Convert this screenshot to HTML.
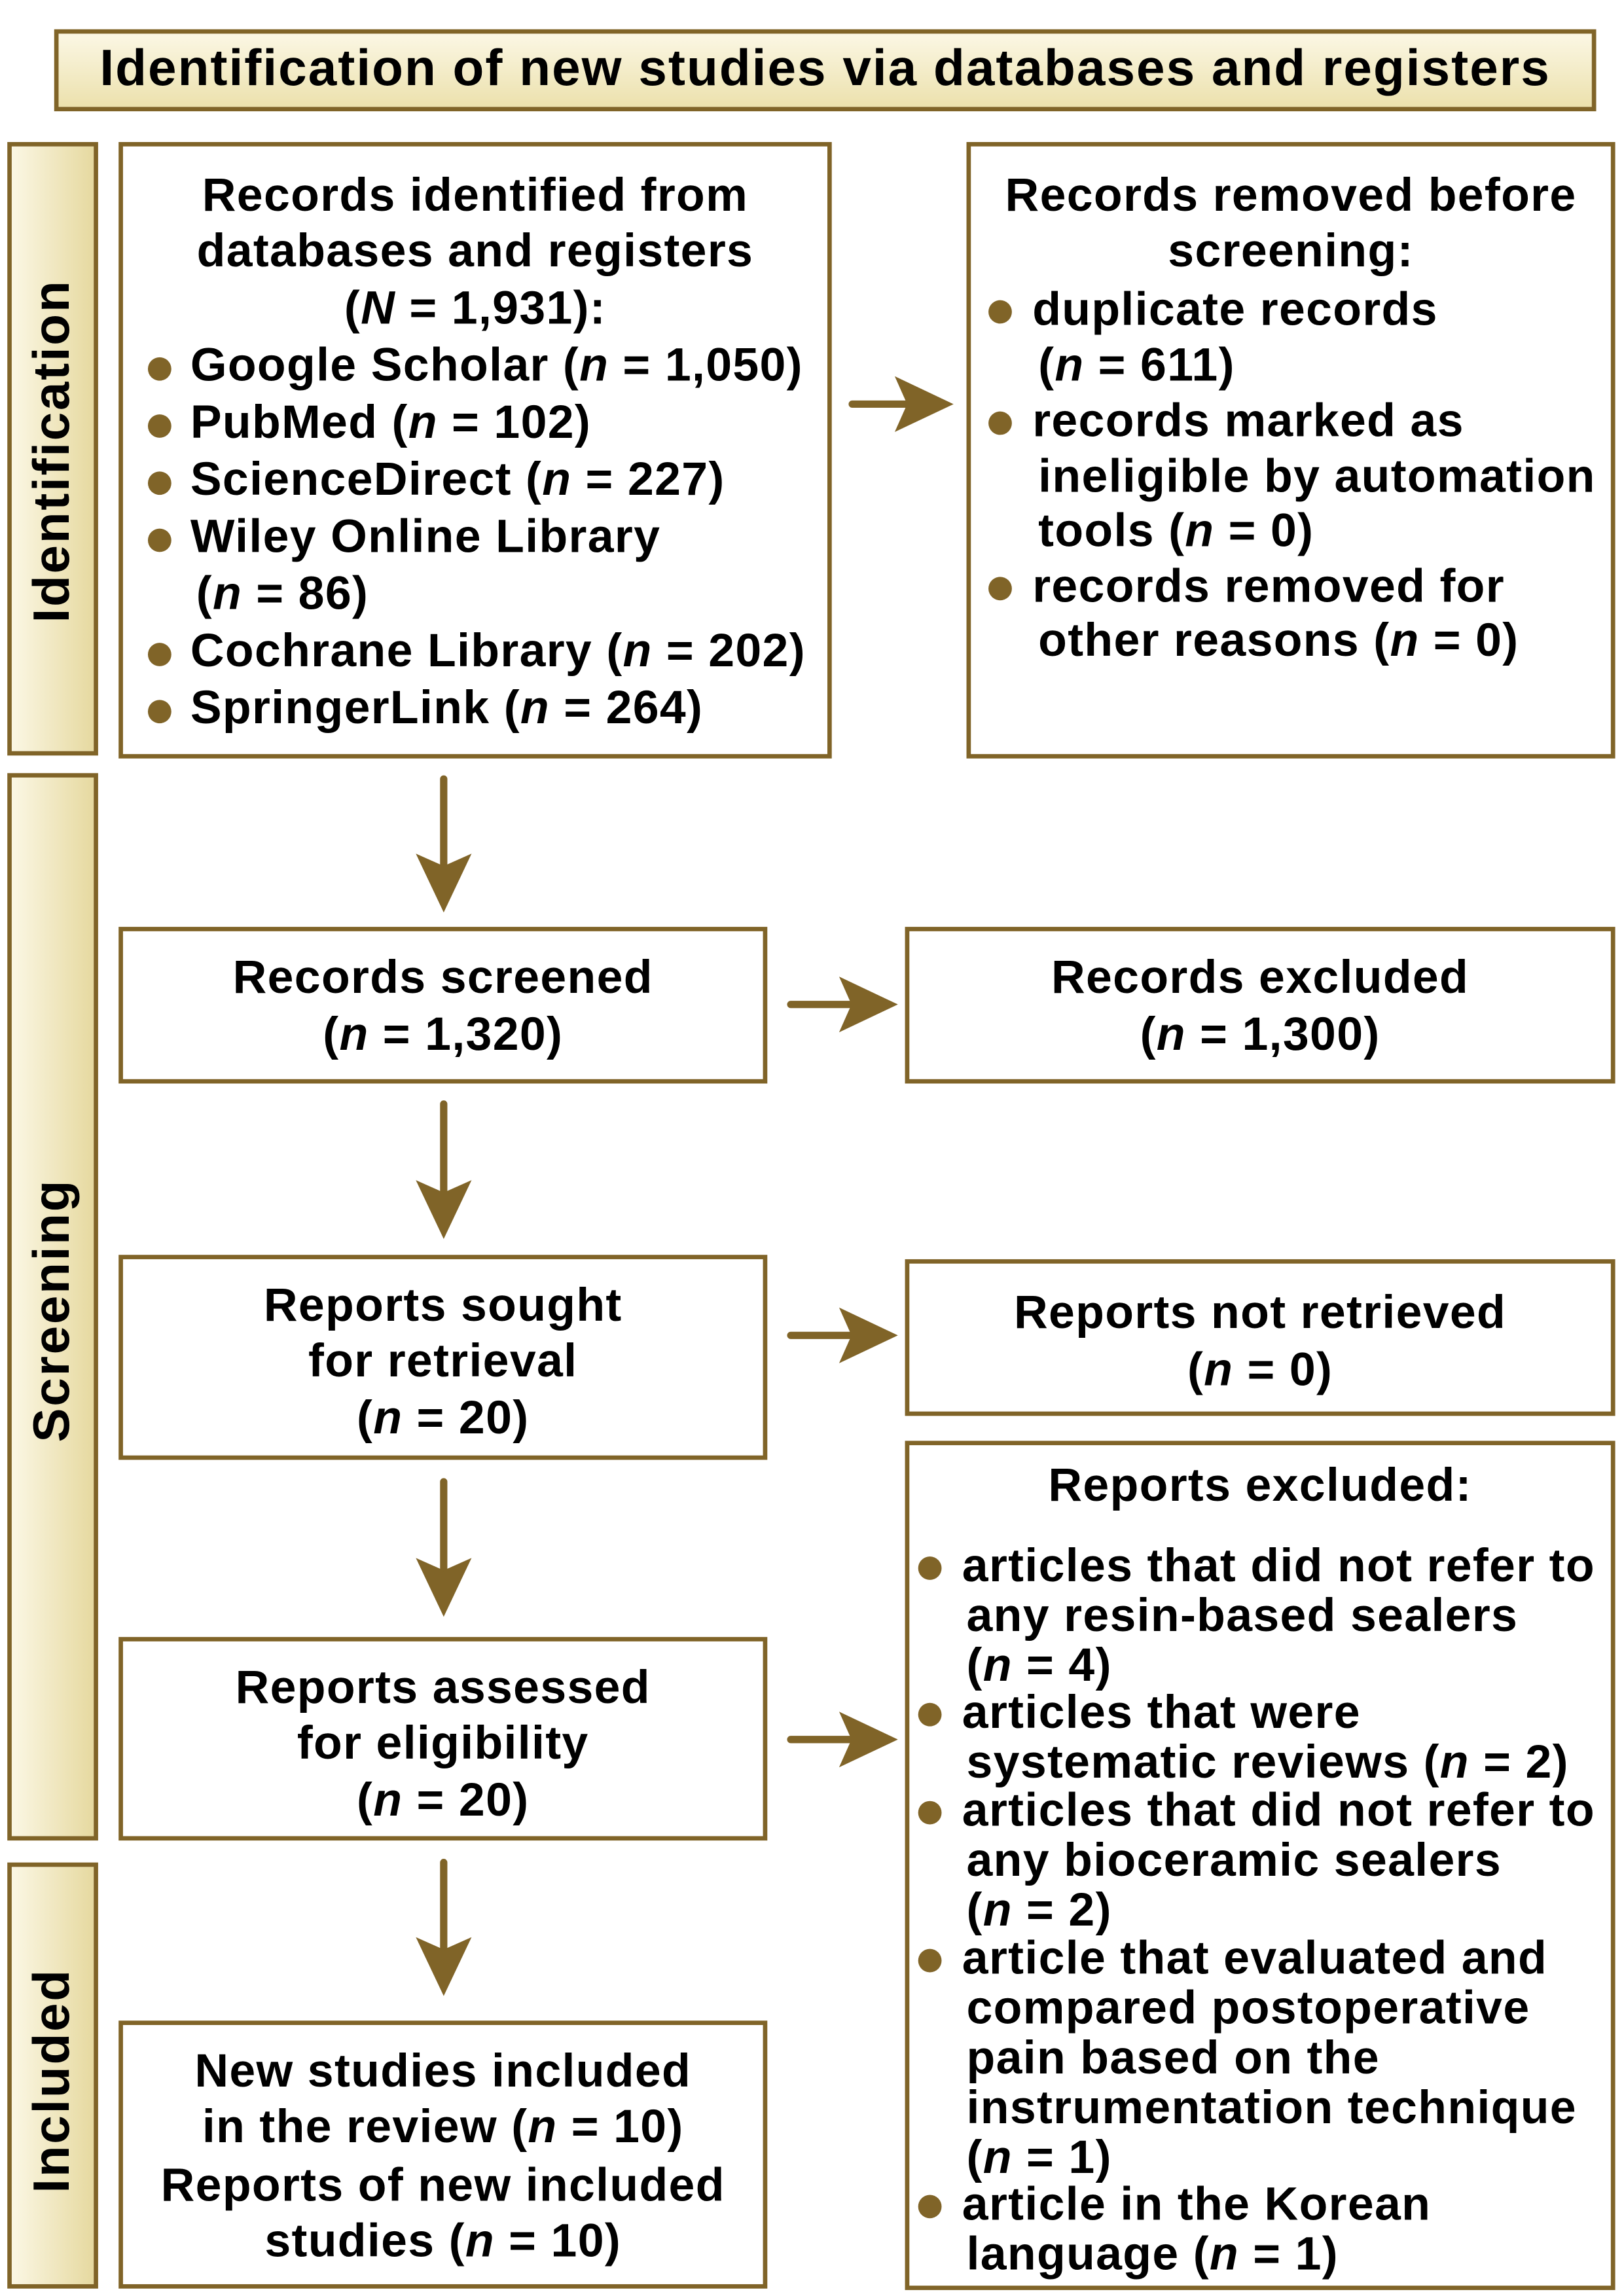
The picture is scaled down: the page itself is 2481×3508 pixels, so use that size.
<!DOCTYPE html>
<html><head><meta charset="utf-8"><style>
html,body{margin:0;padding:0;background:#fff;}
#wrap{width:2481px;height:3508px;overflow:hidden;position:relative;background:#fff;}
#s{position:absolute;left:0;top:0;width:1109px;height:1568px;transform:scale(2.23715);transform-origin:0 0;font-family:"Liberation Sans",Arial,sans-serif;font-weight:bold;color:#000;}
.b{position:absolute;border:3px solid #806428;box-sizing:border-box;background:#fff;}
.g{background:linear-gradient(to bottom,#fbf7e4,#ece1ad);}
.gs{background:linear-gradient(to right,#fbf7e4,#e6d9a0);}
.t{position:absolute;font-size:32px;line-height:38px;white-space:nowrap;letter-spacing:0.6px;}
.c{text-align:center;left:0;right:0;}
.dot{position:absolute;width:16px;height:16px;border-radius:50%;background:#806428;}
.side{position:absolute;font-size:35px;letter-spacing:1.2px;transform:rotate(-90deg);white-space:nowrap;transform-origin:center;}
</style></head><body><div id="wrap"><div id="s">
<svg width="1109" height="1568" style="position:absolute;left:0;top:0">
<g fill="#806428" stroke="#806428" stroke-width="5" stroke-linecap="round">
<line x1="582" y1="276" x2="620" y2="276"/><polygon stroke-width="1" points="612,258 650,276 612,294 620,276"/>
<line x1="540" y1="686" x2="582" y2="686"/><polygon stroke-width="1" points="574,668 612,686 574,704 582,686"/>
<line x1="540" y1="912" x2="582" y2="912"/><polygon stroke-width="1" points="574,894 612,912 574,930 582,912"/>
<line x1="540" y1="1188" x2="582" y2="1188"/><polygon stroke-width="1" points="574,1170 612,1188 574,1206 582,1188"/>
<line x1="303" y1="532" x2="303" y2="592"/><polygon stroke-width="1" points="285,584 303,622 321,584 303,592"/>
<line x1="303" y1="754" x2="303" y2="815"/><polygon stroke-width="1" points="285,807 303,845 321,807 303,815"/>
<line x1="303" y1="1012" x2="303" y2="1073"/><polygon stroke-width="1" points="285,1065 303,1103 321,1065 303,1073"/>
<line x1="303" y1="1272" x2="303" y2="1332"/><polygon stroke-width="1" points="285,1324 303,1362 321,1324 303,1332"/>
</g></svg>

<div class="b g" style="left:37px;top:20px;width:1053px;height:56px;"><div class="t c" style="top:5px;font-size:35px;letter-spacing:0.9px;">Identification of new studies via databases and registers</div></div>

<div class="b gs" style="left:5px;top:97px;width:62px;height:419px;"><div class="side" style="left:-100px;top:188px;width:256px;text-align:center;">Identification</div></div>
<div class="b gs" style="left:5px;top:528px;width:62px;height:729px;"><div class="side" style="left:-100px;top:344px;width:256px;text-align:center;">Screening</div></div>
<div class="b gs" style="left:5px;top:1272px;width:62px;height:291px;"><div class="side" style="left:-100px;top:126px;width:256px;text-align:center;">Included</div></div>

<div class="b" style="left:81px;top:97px;width:487px;height:421px;">
<div class="t c" style="top:14px;">Records identified from</div>
<div class="t c" style="top:52px;">databases and registers</div>
<div class="t c" style="top:91px;">(<i>N</i> = 1,931):</div>
<div class="dot" style="left:17px;top:144px"></div><div class="t" style="left:46px;top:130px;">Google Scholar (<i>n</i> = 1,050)</div>
<div class="dot" style="left:17px;top:183px"></div><div class="t" style="left:46px;top:169px;">PubMed (<i>n</i> = 102)</div>
<div class="dot" style="left:17px;top:222px"></div><div class="t" style="left:46px;top:208px;">ScienceDirect (<i>n</i> = 227)</div>
<div class="dot" style="left:17px;top:261px"></div><div class="t" style="left:46px;top:247px;">Wiley Online Library</div>
<div class="t" style="left:50px;top:286px;">(<i>n</i> = 86)</div>
<div class="dot" style="left:17px;top:339px"></div><div class="t" style="left:46px;top:325px;">Cochrane Library (<i>n</i> = 202)</div>
<div class="dot" style="left:17px;top:378px"></div><div class="t" style="left:46px;top:364px;">SpringerLink (<i>n</i> = 264)</div>
</div>

<div class="b" style="left:660px;top:97px;width:443px;height:421px;">
<div class="t c" style="top:14px;">Records removed before</div>
<div class="t c" style="top:52px;">screening:</div>
<div class="dot" style="left:12px;top:105px"></div><div class="t" style="left:42px;top:92px;">duplicate records</div>
<div class="t" style="left:46px;top:130px;">(<i>n</i> = 611)</div>
<div class="dot" style="left:12px;top:181px"></div><div class="t" style="left:42px;top:168px;">records marked as</div>
<div class="t" style="left:46px;top:206px;">ineligible by automation</div>
<div class="t" style="left:46px;top:243px;">tools (<i>n</i> = 0)</div>
<div class="dot" style="left:12px;top:294px"></div><div class="t" style="left:42px;top:281px;">records removed for</div>
<div class="t" style="left:46px;top:318px;">other reasons (<i>n</i> = 0)</div>
</div>

<div class="b" style="left:81px;top:633px;width:443px;height:107px;">
<div class="t c" style="top:12px;">Records screened</div>
<div class="t c" style="top:51px;">(<i>n</i> = 1,320)</div></div>
<div class="b" style="left:618px;top:633px;width:485px;height:107px;">
<div class="t c" style="top:12px;">Records excluded</div>
<div class="t c" style="top:51px;">(<i>n</i> = 1,300)</div></div>

<div class="b" style="left:81px;top:857px;width:443px;height:140px;">
<div class="t c" style="top:12px;">Reports sought</div>
<div class="t c" style="top:50px;">for retrieval</div>
<div class="t c" style="top:89px;">(<i>n</i> = 20)</div></div>
<div class="b" style="left:618px;top:860px;width:485px;height:107px;">
<div class="t c" style="top:14px;">Reports not retrieved</div>
<div class="t c" style="top:53px;">(<i>n</i> = 0)</div></div>

<div class="b" style="left:81px;top:1118px;width:443px;height:139px;">
<div class="t c" style="top:12px;">Reports assessed</div>
<div class="t c" style="top:50px;">for eligibility</div>
<div class="t c" style="top:89px;">(<i>n</i> = 20)</div></div>

<div class="b" style="left:618px;top:984px;width:485px;height:580px;">
<div class="t c" style="top:8px;">Reports excluded:</div>
<div class="dot" style="left:6px;top:76px"></div><div class="t" style="left:36px;top:63px;">articles that did not refer to</div>
<div class="t" style="left:39px;top:97px;">any resin-based sealers</div>
<div class="t" style="left:39px;top:131px;">(<i>n</i> = 4)</div>
<div class="dot" style="left:6px;top:176px"></div><div class="t" style="left:36px;top:163px;">articles that were</div>
<div class="t" style="left:39px;top:197px;">systematic reviews (<i>n</i> = 2)</div>
<div class="dot" style="left:6px;top:243px"></div><div class="t" style="left:36px;top:230px;">articles that did not refer to</div>
<div class="t" style="left:39px;top:264px;">any bioceramic sealers</div>
<div class="t" style="left:39px;top:298px;">(<i>n</i> = 2)</div>
<div class="dot" style="left:6px;top:344px"></div><div class="t" style="left:36px;top:331px;">article that evaluated and</div>
<div class="t" style="left:39px;top:365px;">compared postoperative</div>
<div class="t" style="left:39px;top:399px;">pain based on the</div>
<div class="t" style="left:39px;top:433px;">instrumentation technique</div>
<div class="t" style="left:39px;top:467px;">(<i>n</i> = 1)</div>
<div class="dot" style="left:6px;top:512px"></div><div class="t" style="left:36px;top:499px;">article in the Korean</div>
<div class="t" style="left:39px;top:533px;">language (<i>n</i> = 1)</div>
</div>

<div class="b" style="left:81px;top:1380px;width:443px;height:183px;">
<div class="t c" style="top:12px;">New studies included</div>
<div class="t c" style="top:50px;">in the review (<i>n</i> = 10)</div>
<div class="t c" style="top:90px;">Reports of new included</div>
<div class="t c" style="top:128px;">studies (<i>n</i> = 10)</div></div>

</div></div></body></html>
